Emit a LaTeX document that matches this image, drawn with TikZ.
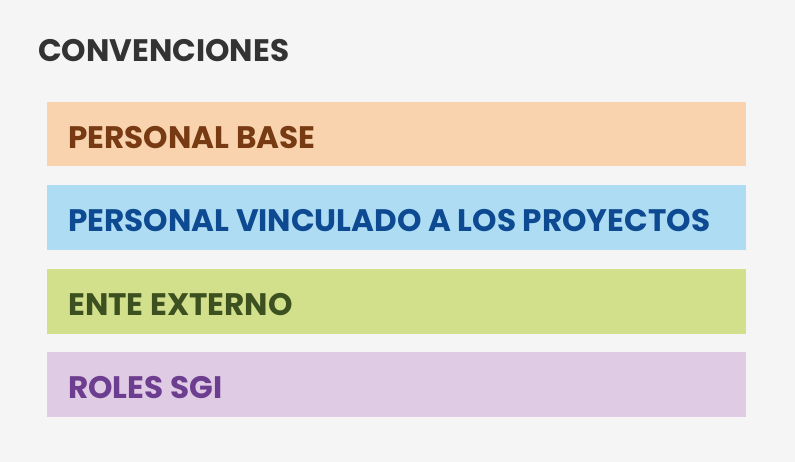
\documentclass[tikz,border=0pt]{standalone}
\usepackage{fontspec}
\setmainfont{Poppins}
\definecolor{fondo}{HTML}{F5F5F5}
\definecolor{titulo}{HTML}{333333}
\definecolor{baseF}{HTML}{F8D3AE}
\definecolor{baseT}{HTML}{773A12}
\definecolor{vincF}{HTML}{ADDCF3}
\definecolor{vincT}{HTML}{0E4A92}
\definecolor{enteF}{HTML}{D2DF8B}
\definecolor{enteT}{HTML}{3D5020}
\definecolor{rolF}{HTML}{DFCBE4}
\definecolor{rolT}{HTML}{6D3E8F}
\tikzset{
  conv/.style={inner sep=0pt, anchor=base west, font=\fontsize{31.1}{32}\selectfont\bfseries}
}
\begin{document}
\begin{tikzpicture}[x=1pt, y=-1pt]
    % Fondo
    \fill[fondo] (0,0) rectangle (795,462);
    \node[conv, text=titulo] (titulo) at (38,61.7) {CONVENCIONES};
    % Convenciones
    \foreach \i/\y/\c/\l in {1/102/base/PERSONAL BASE, 2/185.5/vinc/PERSONAL VINCULADO A LOS PROYECTOS, 3/269/ente/ENTE EXTERNO, 4/352/rol/ROLES SGI} {
        \fill[\c F] (47,\y) rectangle (746,\y+64.5);
        \node[conv, text=\c T] (c\i) at (68,\y+46.3) {\l};
    }
\end{tikzpicture}
\end{document}
